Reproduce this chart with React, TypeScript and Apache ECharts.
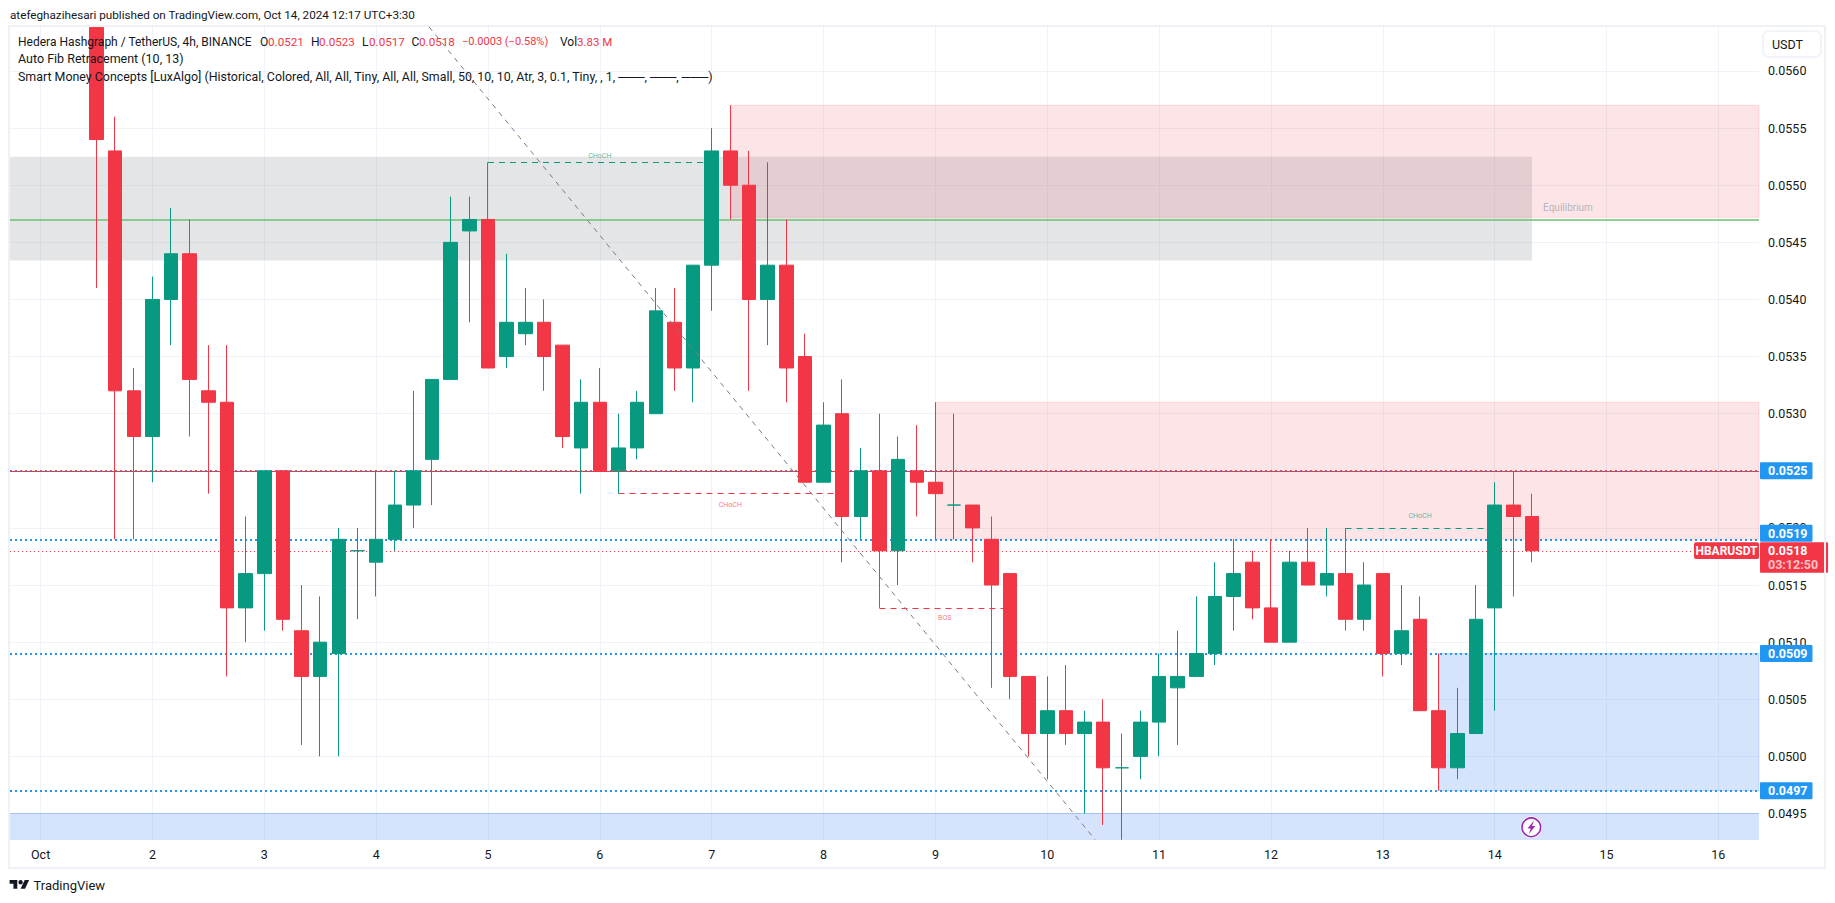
import React, { useEffect, useRef } from "react";
import * as echarts from "echarts";

const FONT = "Roboto, 'Liberation Sans', sans-serif";
const UP = "#089981";
const DOWN = "#f23645";
const BLUE = "#2196f3";
const GRID = "#f0f3fa";
const TEXT = "#131722";

// prices in units of 0.0001, from Oct 1 + 3 bars (one bar = 4h)
const FIRST_BAR = 3;
const opens = [563.8,553,532,528,540,544,532,531,513,516,525,511,507,509,518,517,519,522,526,533,546,547,535,537,538,536,527,531,525,527,530,538,534,543,553,550,540,543,535,524,530,521,525,518,525,524,522,522,519,516,507,502,504,502,503,499,500,503,506,507,509,514,517,513,510,517,515,516,512,516,509,512,504,499,502,513,522,521];
const closes = [554,532,528,540,544,533,531,513,516,525,512,507,510,519,518,519,522,525,533,545,547,534,538,538,535,528,531,525,527,531,539,534,543,553,550,540,543,534,524,529,521,525,518,526,524,523,522,520,515,507,502,504,502,503,499,499,503,507,507,509,514,516,513,510,517,515,516,512,515,509,511,504,499,502,512,522,521,518];
const lows = [541,519,519,524,536,528,523,507,510,511,511,501,500,500,512,514,518,520,522,533,538,534,534,536,532,527,523,525,523,526,530,532,531,539,547,532,536,531,524,524,517,519,513,515,521,519,519,517,506,505,500,498,501,495,494,492.7,498,500,501,507,508,511,512,510,510,515,514,511,511,507,508,504,497,498,502,504,514,517];
const highs = [563.8,556,534,542,548,547,536,536,521,525,525,515,514,520,520,525,525,532,533,549,549,552,544,541,540,536,533,534,530,532,541,541,543,555,557,553,552,547,537,531,533,527,530,528,529,531,530,522,521,516,507,507,508,504,505,502,504,509,511,514,517,519,518,519,518,520,520,520,517,516,515,514,509,506,515,524,525,523];

const dayTicks = [0,6,12,18,24,30,36,42,48,54,60,66,72,78,84,90];
const dayLabels = ["Oct","2","3","4","5","6","7","8","9","10","11","12","13","14","15","16"];
const priceTicks = [0.0495,0.05,0.0505,0.051,0.0515,0.052,0.0525,0.053,0.0535,0.054,0.0545,0.055,0.0555,0.056];
const diagonal = [[20.84,0.056385],[56.57,0.04927]];

const unit = (v: number) => +(v / 10000).toFixed(6);

const hLine = (price: number, color: string, width: number, dash: any, tag?: string, offset: number[] = [0, 0]) => ({
  yAxis: price,
  lineStyle: { color, width, type: dash },
  label: tag
    ? { show: true, position: "end", distance: 1, offset, formatter: tag, color: "#fff", fontFamily: FONT, fontSize: 12.5, fontWeight: "bold",
        backgroundColor: BLUE, padding: [2, 5, 2, 8], lineHeight: 13, borderRadius: 1 }
    : { show: false },
});

const segment = (x0: number, x1: number, price: number, color: string, text: string, pos: string, dist: number) => [
  { coord: [x0, price], lineStyle: { color, width: 1, type: [6, 5] },
    label: { show: true, formatter: text, position: pos, distance: dist, color, opacity: 0.7, fontSize: 7, fontFamily: FONT } },
  { coord: [x1, price] },
];

const box = (x0: any, p0: number, x1: any, p1: any, color: string, border: string) => [
  { ...(x0 === null ? { x: 10 } : { xAxis: x0 }), yAxis: p0, itemStyle: { color, borderColor: border, borderWidth: 1 } },
  { ...(x1 === null ? { x: 1759 } : { xAxis: x1 }), ...(p1 === null ? { y: 840 } : { yAxis: p1 }) },
];

export default function App() {
  const ref = useRef<HTMLDivElement>(null);
  useEffect(() => {
    document.body.style.margin = "0";
    echarts.graphic.registerShape(
      "tvlogo",
      echarts.graphic.extendPath("M14 6H0v7h7v9h7V6zM28 22h-8l7.5-16h8L28 22zM24 10a4 4 0 1 1-8 0a4 4 0 1 1 8 0z", {}) as any
    );
    const chart = echarts.init(ref.current!, undefined, { renderer: "svg", width: 1835, height: 903 });
    const txt = (text: string, x: number, y: number, size: number, fill = TEXT, extra: any = {}) => ({
      type: "text", z: 60, x, y, silent: true,
      style: { text, fill, fontFamily: FONT, fontSize: size, verticalAlign: "middle", ...extra },
    });
    const candles = opens.map((o, i) => {
      const value = [i + FIRST_BAR, unit(o), unit(closes[i]), unit(lows[i]), unit(highs[i])];
      return o === closes[i] ? { value, itemStyle: { color0: UP, borderColor0: UP, color: UP, borderColor: UP } } : { value };
    });
    const option: any = {
      animation: false,
      backgroundColor: "#fff",
      grid: { left: 10, right: 76, top: 27, bottom: 63, containLabel: false },
      xAxis: {
        type: "value", min: -1.6416, max: 92.18, scale: true,
        axisLine: { show: false },
        axisTick: { show: false, customValues: dayTicks },
        splitLine: { show: true, lineStyle: { color: GRID, width: 1 } },
        axisLabel: { customValues: dayTicks, formatter: (v: number) => dayLabels[Math.round(v / 6)], color: TEXT, fontFamily: FONT, fontSize: 12.5, margin: 8, hideOverlap: false, showMinLabel: true, showMaxLabel: true },
      },
      yAxis: {
        type: "value", position: "right", min: 0.049268, max: 0.056385, scale: true,
        axisLine: { show: false },
        axisTick: { show: false, customValues: priceTicks },
        splitLine: { show: true, lineStyle: { color: GRID, width: 1 } },
        axisLabel: { customValues: priceTicks, formatter: (v: number) => v.toFixed(4), color: TEXT, fontFamily: FONT, fontSize: 12.5, margin: 9, showMinLabel: true, showMaxLabel: true },
      },
      series: [
        {
          type: "line", data: diagonal, showSymbol: false, symbol: "none", silent: true,
          lineStyle: { color: "#787b86", width: 1, type: [5, 5] },
          markArea: {
            z: 1, silent: true,
            data: [
              box(null, 0.05525, 80, 0.05434, "rgba(120,123,134,0.2)", "transparent"),
              box(37, 0.0557, null, 0.05472, "rgba(242,54,69,0.13)", "rgba(242,54,69,0.15)"),
              box(48, 0.0531, null, 0.0519, "rgba(242,54,69,0.13)", "rgba(242,54,69,0.15)"),
              box(75, 0.0509, null, 0.0497, "rgba(33,110,240,0.19)", "rgba(33,110,240,0.2)"),
              box(null, 0.0495, null, null, "rgba(33,110,240,0.19)", "transparent"),
            ],
          },
          markLine: {
            z: 1.5, silent: true, symbol: ["none", "none"], precision: 4,
            data: [
              hLine(0.0495, "rgba(33,110,240,0.3)", 1, "solid"),
              hLine(0.05469, "#6cc070", 1.5, "solid"),
              hLine(0.0525, BLUE, 2, [2, 3], "0.0525"),
              hLine(0.0525, DOWN, 1, "solid"),
              hLine(0.0519, BLUE, 2, [2, 3], "0.0519", [0, -6]),
              hLine(0.0509, BLUE, 2, [2, 3], "0.0509"),
              hLine(0.0497, BLUE, 2, [2, 3], "0.0497"),
              {
                yAxis: 0.0518,
                lineStyle: { color: DOWN, width: 1, type: [1, 3] },
                label: {
                  show: true, position: "end", distance: 1, offset: [0, 6.7], backgroundColor: DOWN, padding: [2, 10, 2, 8], borderRadius: 1,
                  formatter: "{a|0.0518}\n{b|03:12:50}",
                  rich: {
                    a: { color: "#fff", fontWeight: "bold", fontSize: 12.5, fontFamily: FONT, lineHeight: 13.3 },
                    b: { color: "#fbc4c9", fontWeight: "bold", fontSize: 12.5, fontFamily: FONT, lineHeight: 13.3 },
                  },
                },
              },
              segment(24, 36, 0.0552, UP, "CHoCH", "insideMiddleTop", 3),
              segment(31, 43, 0.0523, DOWN, "CHoCH", "insideMiddleBottom", 8),
              segment(45, 52, 0.0513, DOWN, "BOS", "insideMiddleBottom", 7),
              segment(70, 78, 0.052, UP, "CHoCH", "insideMiddleTop", 8),
            ],
          },
        },
        {
          type: "candlestick", data: candles, barWidth: 14, silent: true,
          itemStyle: { color: UP, color0: DOWN, borderColor: UP, borderColor0: DOWN, borderWidth: 1 },
        },
      ],
      graphic: [
        { type: "rect", z: 55, silent: true, shape: { x: 9, y: 26, width: 1816, height: 842 }, style: { fill: "none", stroke: "#eff1f6", lineWidth: 2 } },
        txt("atefeghazihesari published on TradingView.com, Oct 14, 2024 12:17 UTC+3:30", 10, 15, 11.7),
        txt("Hedera Hashgraph / TetherUS, 4h, BINANCE", 18, 41.7, 12),
        txt("O", 260, 41.7, 12), txt("0.0521", 268, 41.7, 11.7, DOWN),
        txt("H", 311, 41.7, 12), txt("0.0523", 319, 41.7, 11.7, DOWN),
        txt("L", 362, 41.7, 12), txt("0.0517", 369, 41.7, 11.7, DOWN),
        txt("C", 411.5, 41.7, 12), txt("0.0518", 419, 41.7, 11.7, DOWN),
        txt("−0.0003 (−0.58%)", 462, 41.7, 11, DOWN),
        txt("Vol", 560, 41.7, 12), txt("3.83 M", 577, 41.7, 11.5, DOWN),
        txt("Auto Fib Retracement (10, 13)", 18, 58.7, 12.5),
        txt("Smart Money Concepts [LuxAlgo] (Historical, Colored, All, All, Tiny, All, All, Small, 50, 10, 10, Atr, 3, 0.1, Tiny, , 1, ───, ───, ───)", 18, 76, 12.4),
        txt("Equilibrium", 1568, 207.7, 10, "#b2b5be", { align: "center" }),
        { type: "rect", z: 58, silent: true, shape: { x: 1763, y: 31, width: 58, height: 26, r: 6 }, style: { fill: "#fff", stroke: GRID, lineWidth: 2 } },
        txt("USDT", 1772, 44.5, 12.5),
        { type: "rect", z: 58, silent: true, shape: { x: 1694, y: 542.3, width: 65, height: 16.6, r: 2 }, style: { fill: DOWN } },
        txt("HBARUSDT", 1726.5, 551, 12, "#fff", { align: "center", fontWeight: "bold" }),
        { type: "circle", z: 58, silent: true, shape: { cx: 1531.3, cy: 827.3, r: 10.7 }, style: { fill: "#fff" } },
        { type: "circle", z: 59, silent: true, shape: { cx: 1531.3, cy: 827.3, r: 9.3 }, style: { fill: "#fff", stroke: "#9c27b0", lineWidth: 1.6 } },
        { type: "polygon", z: 59, silent: true, shape: { points: [[1534, 820.5], [1527.5, 828.5], [1530.8, 828.5], [1528.8, 834], [1535.3, 826], [1532, 826]] }, style: { fill: "#9c27b0" } },
        { type: "tvlogo", z: 60, silent: true, x: 9.6, y: 876.7, scaleX: 0.55, scaleY: 0.55, style: { fill: "#131722" } },
        txt("TradingView", 33.5, 885.5, 13),
      ],
    };
    chart.setOption(option);
    return () => chart.dispose();
  }, []);
  return <div ref={ref} style={{ position: "absolute", left: 0, top: 0, width: 1835, height: 903 }} />;
}
